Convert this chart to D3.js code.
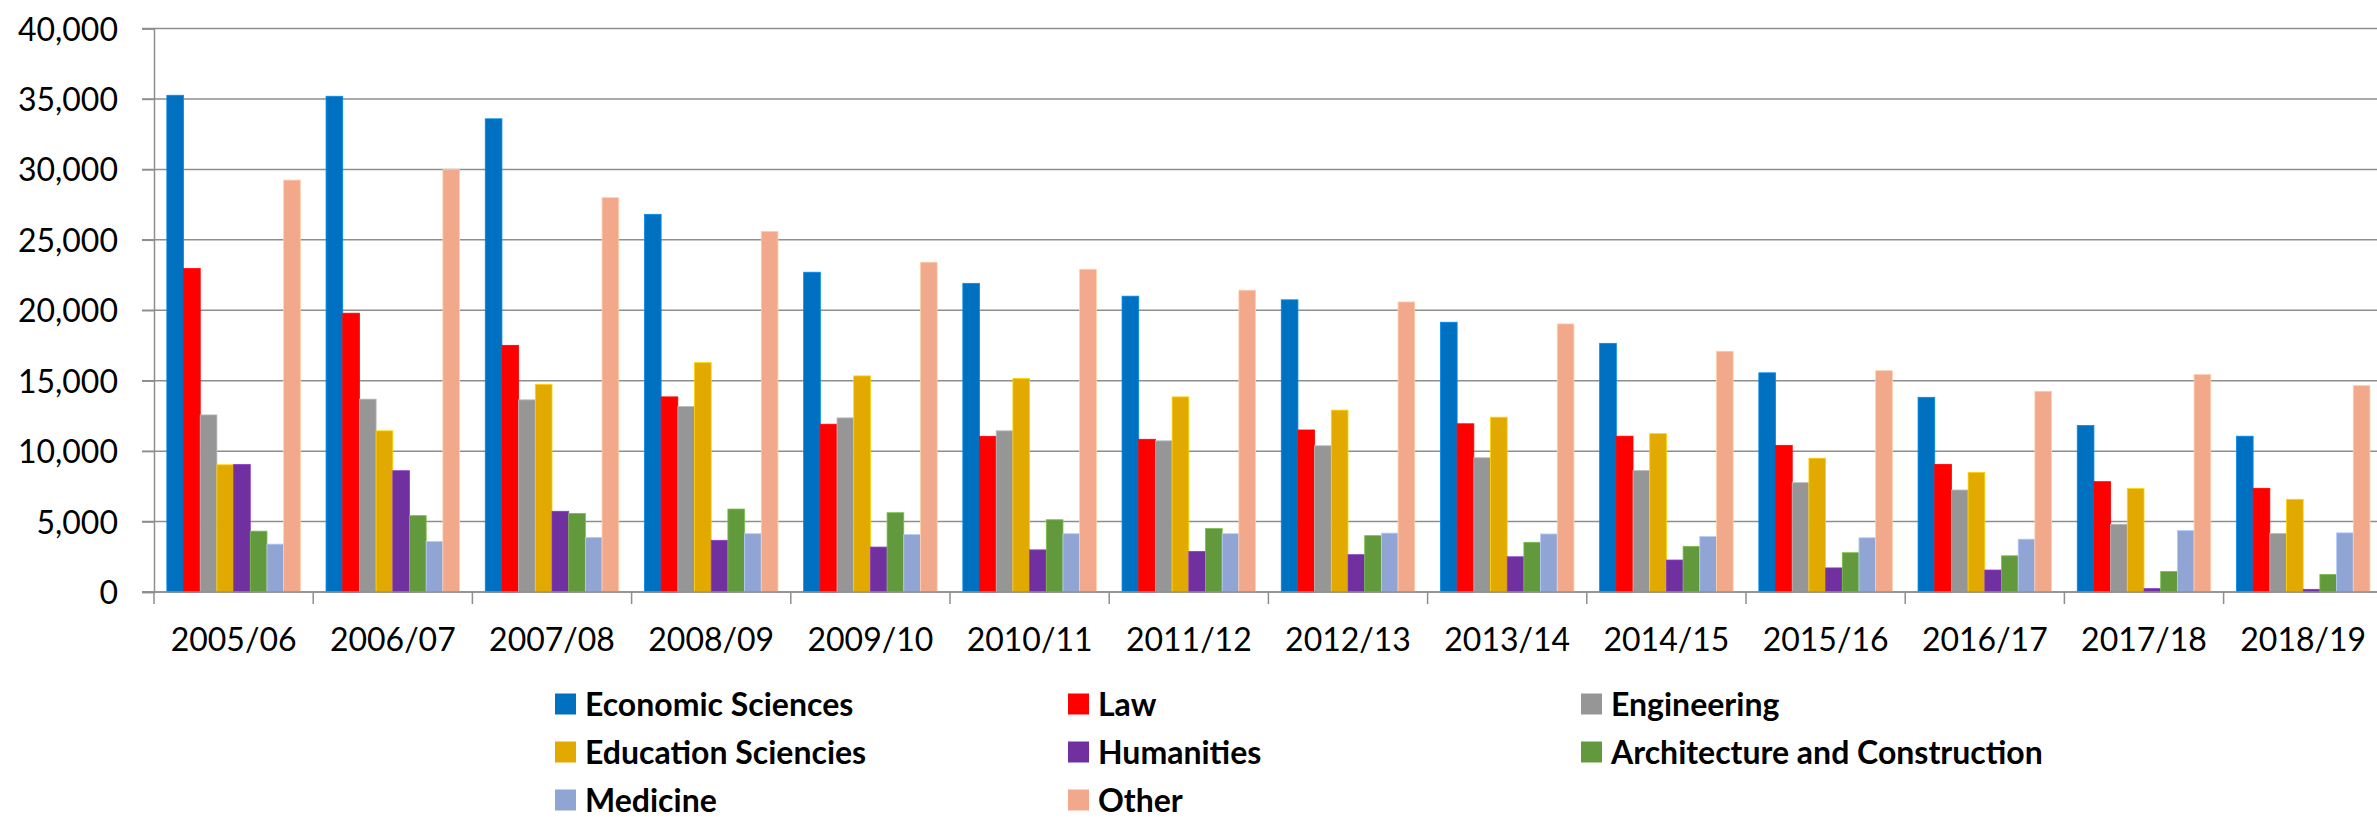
<!DOCTYPE html>
<meta charset="utf-8">
<style>
body { margin: 0; background: #fff; }
svg { display: block; }
.grid line { stroke: #8e8e8e; stroke-width: 1.5px; }
.axis path, .axis line { stroke: #8e8e8e; stroke-width: 1.5px; }
.axis text { fill: #000; font-size: 32px; font-family: Lato, "Open Sans", sans-serif; }
.legend text { font-size: 32px; font-weight: bold; fill: #000; font-family: Lato, "Open Sans", sans-serif; }
</style>
<body>
<script src="https://d3js.org/d3.v7.min.js"></script>
<script>

// data
var years = ["2005/06", "2006/07", "2007/08", "2008/09", "2009/10", "2010/11", "2011/12",
             "2012/13", "2013/14", "2014/15", "2015/16", "2016/17", "2017/18", "2018/19"];
var seriesNames = ["Economic Sciences", "Law", "Engineering", "Education Sciencies",
                   "Humanities", "Architecture and Construction", "Medicine", "Other"];
var economic  = [35260, 35190, 33590, 26810, 22700, 21910, 21000, 20740, 19150, 17650, 15560, 13820, 11820, 11060];
var law       = [22960, 19790, 17510, 13850, 11910, 11050, 10840, 11500, 11940, 11060, 10410, 9060, 7830, 7360];
var engineer  = [12570, 13690, 13640, 13170, 12360, 11440, 10730, 10380, 9530, 8620, 7760, 7240, 4810, 4150];
var education = [9030, 11440, 14740, 16280, 15340, 15160, 13850, 12910, 12410, 11240, 9500, 8490, 7340, 6580];
var humanities = [9050, 8610, 5730, 3670, 3190, 2990, 2880, 2650, 2500, 2270, 1710, 1560, 240, 190];
var architecture = [4320, 5420, 5580, 5890, 5630, 5130, 4510, 4000, 3530, 3240, 2790, 2570, 1460, 1250];
var medicine  = [3400, 3590, 3880, 4140, 4080, 4140, 4140, 4180, 4120, 3940, 3850, 3750, 4360, 4200];
var other     = [29240, 29980, 27990, 25600, 23410, 22910, 21420, 20590, 19030, 17090, 15710, 14250, 15430, 14650];
var yTicks = [0, 5000, 10000, 15000, 20000, 25000, 30000, 35000, 40000];

var allValues = [economic, law, engineer, education, humanities, architecture, medicine, other];
var colors = ["#0070c0", "#ff0000", "#969696", "#e2aa00", "#7030a0", "#63993d", "#91a5d5", "#f1a88b"];

var width = 2377, height = 820;
var plotLeft = 154, plotTop = 28.5, plotBottom = 592;
var groupW = 159.2;

var svg = d3.select("body").append("svg")
    .attr("width", width)
    .attr("height", height);

var x0 = d3.scaleBand().domain(years).range([plotLeft, plotLeft + groupW * years.length]);
var x1 = d3.scaleBand().domain(seriesNames).range([0, x0.bandwidth()])
    .paddingInner(0).paddingOuter(0.77);
var y = d3.scaleLinear().domain([0, 40000]).range([plotBottom, plotTop]);

// gridlines
svg.append("g")
    .attr("class", "grid")
    .selectAll("line")
    .data(yTicks)
  .enter().append("line")
    .attr("x1", plotLeft - 12)
    .attr("x2", width)
    .attr("y1", function(d) { return y(d); })
    .attr("y2", function(d) { return y(d); });

// y axis
var yAxis = svg.append("g")
    .attr("class", "axis")
    .attr("transform", "translate(" + plotLeft + ",0)")
    .call(d3.axisLeft(y).tickValues(yTicks).tickFormat(d3.format(",")).tickSize(12).tickPadding(24));
yAxis.selectAll("text").attr("dy", "0.36em");

// bars
var groups = svg.append("g").selectAll("g")
    .data(years)
  .enter().append("g")
    .attr("transform", function(d) { return "translate(" + x0(d) + ",0)"; });

groups.selectAll("rect")
    .data(function(d, i) {
      return seriesNames.map(function(s, j) { return { key: s, value: allValues[j][i], color: colors[j] }; });
    })
  .enter().append("rect")
    .attr("x", function(d) { return x1(d.key); })
    .attr("width", x1.bandwidth())
    .attr("y", function(d) { return y(d.value); })
    .attr("height", function(d) { return plotBottom - y(d.value); })
    .attr("fill", function(d) { return d.color; })
    .attr("stroke", function(d) { return d3.color(d.color).brighter(0.6); })
    .attr("stroke-width", 0.8);

// x axis
var xAxis = svg.append("g")
    .attr("class", "axis")
    .attr("transform", "translate(0," + plotBottom + ")")
    .call(d3.axisBottom(x0).tickSize(0).tickPadding(36));
xAxis.select(".domain").remove();
xAxis.selectAll("text").attr("dy", "0.71em");

svg.append("line")
    .attr("x1", plotLeft - 12).attr("x2", width)
    .attr("y1", plotBottom).attr("y2", plotBottom)
    .attr("stroke", "#8e8e8e").attr("stroke-width", 1.5);

svg.append("g").selectAll("line")
    .data(d3.range(years.length + 1))
  .enter().append("line")
    .attr("x1", function(i) { return plotLeft + i * x0.bandwidth(); })
    .attr("x2", function(i) { return plotLeft + i * x0.bandwidth(); })
    .attr("y1", plotBottom).attr("y2", plotBottom + 12)
    .attr("stroke", "#8e8e8e").attr("stroke-width", 1.5);

// legend, 3 columns
var legend = svg.append("g").attr("class", "legend")
    .selectAll("g")
    .data(seriesNames)
  .enter().append("g")
    .attr("transform", function(d, i) {
      return "translate(" + (555 + (i % 3) * 513) + "," + (704 + Math.floor(i / 3) * 48) + ")";
    });

legend.append("rect")
    .attr("x", 0).attr("y", -10.5)
    .attr("width", 21).attr("height", 21)
    .attr("fill", function(d, i) { return colors[i]; });

legend.append("text")
    .attr("x", 30)
    .attr("dy", "0.36em")
    .text(function(d) { return d; });

</script>
</body>
